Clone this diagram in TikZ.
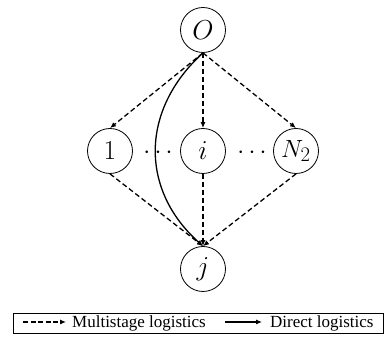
\documentclass[tikz,border=0pt]{standalone}
\usepackage{fontspec}
\setmainfont{Liberation Serif}
\usetikzlibrary{arrows.meta}
\newcommand{\vlab}[1]{\scalebox{1.1}{$#1$}}
\begin{document}
\begin{tikzpicture}[x=1pt,y=-1pt,
  vtx/.style={circle,draw,line width=0.8pt,minimum size=45pt,inner sep=0pt,font=\fontsize{24.88}{30}\selectfont},
  tip/.style={-{Latex[length=6pt,width=5pt]}},
  dashedge/.style={tip,line width=1.3pt,dash pattern=on 5pt off 3pt},
  solidedge/.style={tip,line width=1.3pt},
  lbl/.style={font=\fontsize{17}{20}\selectfont,inner sep=0pt,anchor=west}]
\useasboundingbox (0,0) rectangle (384,347);
\node[vtx] (o) at (203,30) {\vlab{O}};
\node[vtx] (n1) at (110,151) {\vlab{1}};
\node[vtx] (ni) at (203,151) {\vlab{i}};
\node[vtx] (nn) at (296,151) {$N_2$};
\node[vtx] (j) at (203,269) {\vlab{j}};
\node (d1) at (158,153) {\fontsize{24}{26}\selectfont$\cdots$};
\node (d2) at (252,153) {\fontsize{24}{26}\selectfont$\cdots$};
\draw[dashedge] (o.south) -- (n1.north);
\draw[dashedge] (o.south) -- (ni.north);
\draw[dashedge] (o.south) -- (nn.north);
\draw[dashedge] (n1.south) -- (j.north);
\draw[dashedge] (ni.south) -- (j.north);
\draw[dashedge] (nn.south) -- (j.north);
\draw[solidedge] (o.south) .. controls (140,110) and (140,190) .. (j.north);
% legend
\node[draw,line width=0.8pt,minimum width=370pt,minimum height=20pt,inner sep=0pt] (leg) at (198,323.5) {};
\coordinate (a1s) at (23,322);
\coordinate (a1e) at (66,322);
\coordinate (a2s) at (225,322);
\coordinate (a2e) at (262,322);
\draw[dashedge,line width=1.1pt,dash pattern=on 5pt off 2.5pt] (a1s) -- (a1e);
\draw[solidedge,line width=1.1pt] (a2s) -- (a2e);
\node[lbl] (t1) at (72,323) {Multistage logistics};
\node[lbl] (t2) at (270,323) {Direct logistics};
\end{tikzpicture}
\end{document}
